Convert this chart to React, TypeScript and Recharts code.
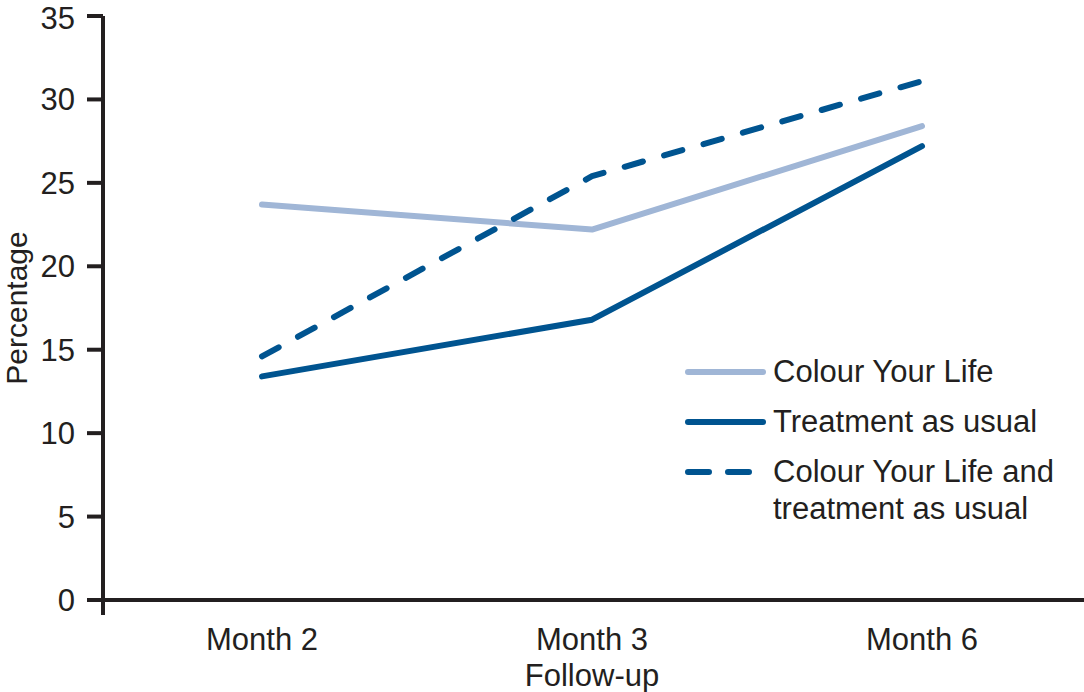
import * as Recharts from 'recharts';
import { LineChart, Line, XAxis, YAxis } from 'recharts';

const categories = ['Month 2', 'Month 3', 'Month 6'];
const subLabels = ['', 'Follow-up', ''];
const colourYourLife = [23.7, 22.2, 28.4];
const treatmentAsUsual = [13.4, 16.8, 27.2];
const combined = [14.6, 25.4, 31.1];
const yTicks = [0, 5, 10, 15, 20, 25, 30, 35];

const data = categories.map((month, i) => ({
  month,
  cyl: colourYourLife[i],
  tau: treatmentAsUsual[i],
  both: combined[i],
}));

const INK = '#231F20';
const LIGHT = '#A0B6D6';
const DARK = '#005490';
const FONT = '"Liberation Sans", Arial, sans-serif';
const DASH = '19 22';

const legendItems = [
  { lines: ['Colour Your Life'], color: LIGHT, dash: undefined },
  { lines: ['Treatment as usual'], color: DARK, dash: undefined },
  { lines: ['Colour Your Life and', 'treatment as usual'], color: DARK, dash: '21 19' },
];

const MonthTick = ({ x, y, payload }: any) => {
  const i = categories.indexOf(payload.value);
  return (
    <text x={x} y={y} textAnchor="middle" fill={INK} fontSize={31} fontFamily={FONT}>
      <tspan x={x} dy={50}>{payload.value}</tspan>
      {subLabels[i] ? <tspan x={x} dy={36}>{subLabels[i]}</tspan> : null}
    </text>
  );
};

// legend sits over the plot, so keep it out of recharts' layout
const LegendBox = () => (
  <div
    style={{
      position: 'absolute',
      left: 682,
      top: 353,
      fontFamily: FONT,
      fontSize: 31,
      color: INK,
      lineHeight: '37px',
    }}
  >
    {legendItems.map((item) => (
      <div key={item.lines[0]} style={{ display: 'flex', alignItems: 'flex-start', marginBottom: 13 }}>
        <svg width={88} height={37} style={{ flex: 'none' }}>
          <line
            x1={6}
            x2={81}
            y1={19}
            y2={19}
            stroke={item.color}
            strokeWidth={6}
            strokeLinecap="round"
            strokeDasharray={item.dash}
          />
        </svg>
        <div style={{ marginLeft: 3, whiteSpace: 'nowrap' }}>
          {item.lines.map((l) => (
            <div key={l}>{l}</div>
          ))}
        </div>
      </div>
    ))}
  </div>
);

// small stub of the y axis running below the x axis
const AxisStub = () => {
  const usePlotArea = (Recharts as any).usePlotArea;
  const area = usePlotArea ? usePlotArea() : null;
  if (!area) return null;
  return (
    <line
      x1={area.x}
      x2={area.x}
      y1={area.y + area.height}
      y2={area.y + area.height + 15}
      stroke={INK}
      strokeWidth={4}
    />
  );
};

export default function App() {
  return (
    <div style={{ position: 'absolute', left: 0, top: 0, width: 1084, height: 692, background: '#fff' }}>
      <LineChart width={1084} height={692} data={data} margin={{ top: 16, right: 0, bottom: 0, left: 0 }}>
        <XAxis
          dataKey="month"
          height={92}
          padding={{ left: 159, right: 162 }}
          axisLine={{ stroke: INK, strokeWidth: 4 }}
          tickLine={false}
          tickSize={0}
          tickMargin={0}
          tick={<MonthTick />}
          interval={0}
        />
        <YAxis
          width={103}
          domain={[0, 35]}
          ticks={yTicks}
          allowDataOverflow
          axisLine={{ stroke: INK, strokeWidth: 4 }}
          tickLine={{ stroke: INK, strokeWidth: 4 }}
          tickSize={16}
          tickMargin={12}
          tick={{ fill: INK, fontSize: 31, fontFamily: FONT }}
          label={({ viewBox }: any) => (
            <text
              x={27}
              y={viewBox.y + viewBox.height / 2}
              transform={`rotate(-90, 27, ${viewBox.y + viewBox.height / 2})`}
              textAnchor="middle"
              fill={INK}
              fontSize={30}
              fontFamily={FONT}
            >
              Percentage
            </text>
          )}
        />
        <Line
          type="linear"
          dataKey="cyl"
          name="Colour Your Life"
          stroke={LIGHT}
          strokeWidth={6}
          strokeLinecap="round"
          strokeLinejoin="round"
          dot={false}
          activeDot={false}
          isAnimationActive={false}
        />
        <Line
          type="linear"
          dataKey="tau"
          name="Treatment as usual"
          stroke={DARK}
          strokeWidth={6}
          strokeLinecap="round"
          strokeLinejoin="round"
          dot={false}
          activeDot={false}
          isAnimationActive={false}
        />
        <Line
          type="linear"
          dataKey="both"
          name="Colour Your Life and treatment as usual"
          stroke={DARK}
          strokeWidth={6}
          strokeDasharray={DASH}
          strokeLinecap="round"
          strokeLinejoin="round"
          dot={false}
          activeDot={false}
          isAnimationActive={false}
        />
        <AxisStub />
      </LineChart>
      <LegendBox />
    </div>
  );
}
